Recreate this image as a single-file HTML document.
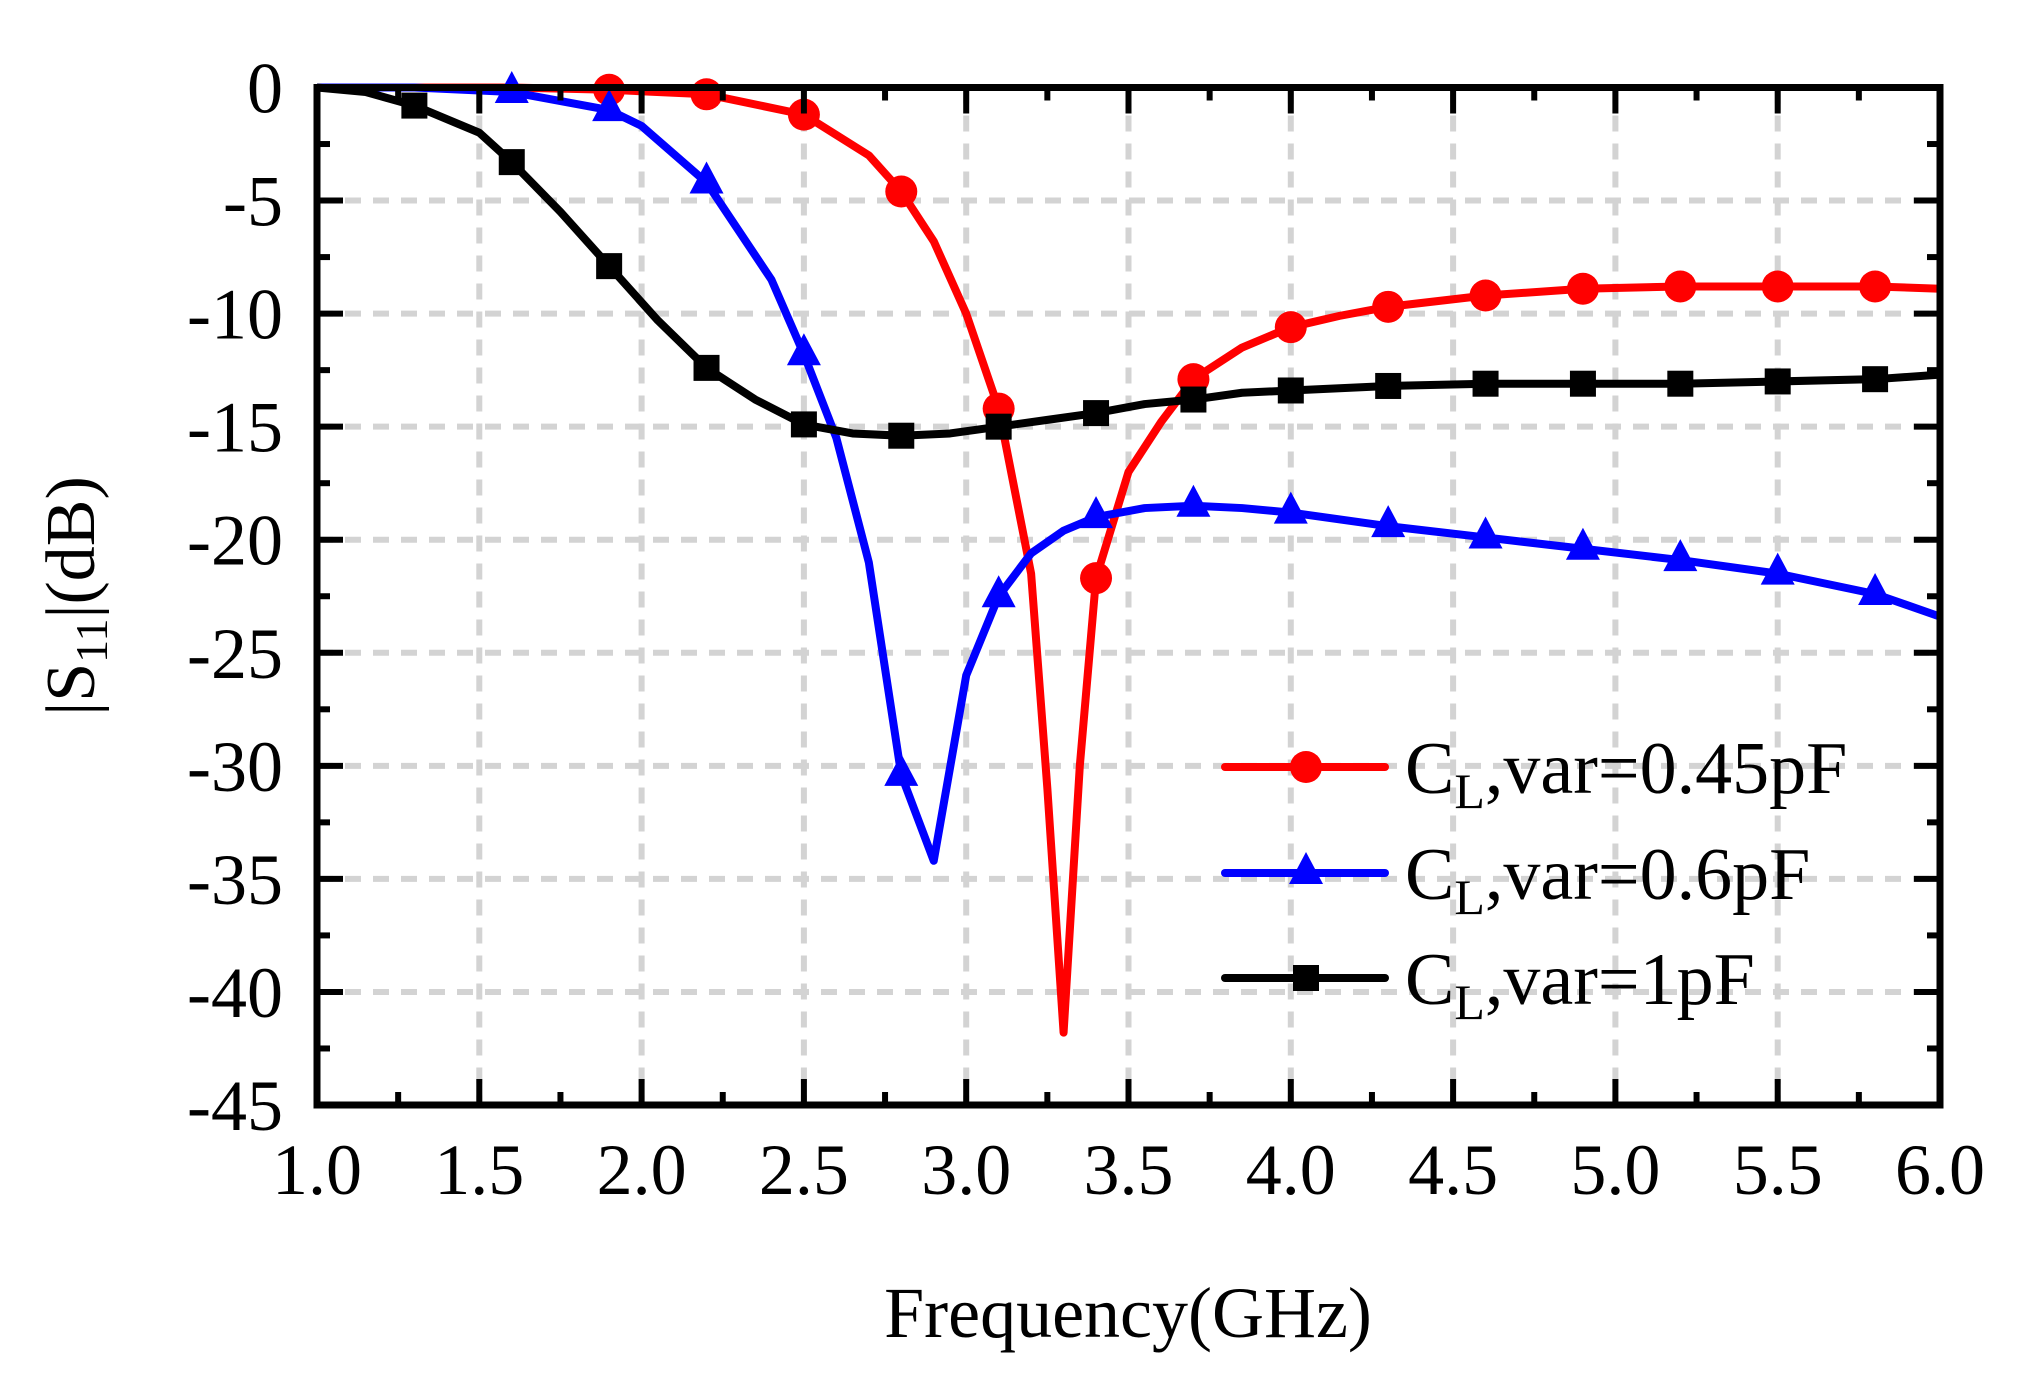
<!DOCTYPE html>
<html><head><meta charset="utf-8"><style>
html,body{margin:0;padding:0;background:#fff;}
svg text{font-family:"Liberation Serif",serif;fill:#000;}
</style></head><body>
<svg id="s" width="2034" height="1388" viewBox="0 0 2034 1388" xmlns="http://www.w3.org/2000/svg">
<rect width="2034" height="1388" fill="#fff"/>
<g id="grid"></g>
<g id="series"></g>
<g id="frame"></g>
<g id="labels"></g>
<g id="legend">
 <line x1="1225" y1="767" x2="1385" y2="767" stroke="#f00" stroke-width="8" stroke-linecap="round"/>
 <circle cx="1306" cy="767" r="16" fill="#f00"/>
 <line x1="1225" y1="873" x2="1385" y2="873" stroke="#00f" stroke-width="8" stroke-linecap="round"/>
 <polygon points="1306,852 1323,884 1289,884" fill="#00f"/>
 <line x1="1225" y1="978" x2="1385" y2="978" stroke="#000" stroke-width="8" stroke-linecap="round"/>
 <rect x="1293" y="965" width="26" height="26" fill="#000"/>
 <text x="1405" y="793" font-size="74">C<tspan font-size="50" dy="15">L</tspan><tspan dy="-15">,var=0.45pF</tspan></text>
 <text x="1405" y="899" font-size="74">C<tspan font-size="50" dy="15">L</tspan><tspan dy="-15">,var=0.6pF</tspan></text>
 <text x="1405" y="1004" font-size="74">C<tspan font-size="50" dy="15">L</tspan><tspan dy="-15">,var=1pF</tspan></text>
</g>
<text x="1128" y="1337" font-size="72" text-anchor="middle">Frequency(GHz)</text>
<text transform="translate(94,596) rotate(-90)" font-size="70" text-anchor="middle">|S<tspan font-size="46" dy="13">11</tspan><tspan dy="-13">|(dB)</tspan></text>
</svg>
<script>
var L=317,R=1940,T=87.5,B=1105;
function X(f){return L+(f-1)*(R-L)/5;}
function Y(d){return T-d*(B-T)/45;}
var ns="http://www.w3.org/2000/svg";
function el(p,t,a){var e=document.createElementNS(ns,t);for(var k in a)e.setAttribute(k,a[k]);document.getElementById(p).appendChild(e);return e;}
for(var i=1;i<10;i++){var x=X(1+i*0.5);el("grid","line",{x1:x,y1:T,x2:x,y2:B,stroke:"#d3d3d3","stroke-width":6,"stroke-dasharray":"16,12"});}
for(var j=1;j<9;j++){var y=Y(-5*j);el("grid","line",{x1:L,y1:y,x2:R,y2:y,stroke:"#d3d3d3","stroke-width":6,"stroke-dasharray":"16,12"});}
var red=[[1,0],[1.3,0],[1.6,0],[1.9,-0.1],[2.2,-0.3],[2.5,-1.2],[2.7,-3],[2.8,-4.6],[2.9,-6.8],[3.0,-10],[3.1,-14.2],[3.2,-21.5],[3.25,-31],[3.3,-41.8],[3.35,-30],[3.4,-21.7],[3.5,-17],[3.6,-14.8],[3.7,-12.9],[3.85,-11.5],[4.0,-10.6],[4.15,-10.1],[4.3,-9.7],[4.6,-9.2],[4.9,-8.9],[5.2,-8.8],[5.5,-8.8],[5.8,-8.8],[6.0,-8.9]];
var blue=[[1,0],[1.3,0],[1.6,-0.2],[1.9,-1.0],[2.0,-1.7],[2.2,-4.2],[2.4,-8.5],[2.5,-11.8],[2.6,-15.5],[2.7,-21],[2.8,-30.4],[2.9,-34.2],[3.0,-26],[3.1,-22.5],[3.2,-20.6],[3.3,-19.6],[3.4,-19],[3.55,-18.6],[3.7,-18.5],[3.85,-18.6],[4.0,-18.8],[4.3,-19.4],[4.6,-19.9],[4.9,-20.4],[5.2,-20.9],[5.5,-21.5],[5.8,-22.4],[6.0,-23.4]];
var black=[[1,0],[1.15,-0.2],[1.3,-0.8],[1.5,-2],[1.6,-3.3],[1.75,-5.5],[1.9,-7.9],[2.05,-10.3],[2.2,-12.4],[2.35,-13.8],[2.5,-14.9],[2.65,-15.3],[2.8,-15.4],[2.95,-15.3],[3.1,-15.0],[3.25,-14.7],[3.4,-14.4],[3.55,-14.0],[3.7,-13.8],[3.85,-13.5],[4.0,-13.4],[4.3,-13.2],[4.6,-13.1],[4.9,-13.1],[5.2,-13.1],[5.5,-13.0],[5.8,-12.9],[6.0,-12.7]];
var mk=[1.3,1.6,1.9,2.2,2.5,2.8,3.1,3.4,3.7,4.0,4.3,4.6,4.9,5.2,5.5,5.8];
function interp(d,f){for(var i=0;i<d.length-1;i++){if(f>=d[i][0]-1e-9&&f<=d[i+1][0]+1e-9){var t=(f-d[i][0])/(d[i+1][0]-d[i][0]);return d[i][1]+t*(d[i+1][1]-d[i][1]);}}return d[d.length-1][1];}
function draw(d,c,type,start){
 el("series","polyline",{points:d.map(function(p){return X(p[0])+","+Y(p[1]);}).join(" "),fill:"none",stroke:c,"stroke-width":8,"stroke-linejoin":"round"});
 mk.forEach(function(f){if(f<start-1e-9)return;var x=X(f),y=Y(interp(d,f));
  if(type==0)el("series","circle",{cx:x,cy:y,r:16,fill:c});
  else if(type==1)el("series","polygon",{points:x+","+(y-21)+" "+(x+17)+","+(y+11)+" "+(x-17)+","+(y+11),fill:c});
  else el("series","rect",{x:x-13,y:y-13,width:26,height:26,fill:c});});
}
draw(red,"#f00",0,1.9);draw(blue,"#00f",1,1.6);draw(black,"#000",2,1.3);
el("frame","rect",{x:L,y:T,width:R-L,height:B-T,fill:"none",stroke:"#000","stroke-width":7});
for(var i=0;i<=20;i++){var x=X(1+i*0.25),len=(i%2==0)?26:13;
 el("frame","line",{x1:x,y1:B,x2:x,y2:B-len,stroke:"#000","stroke-width":6});
 el("frame","line",{x1:x,y1:T,x2:x,y2:T+len,stroke:"#000","stroke-width":6});}
for(var j=0;j<=18;j++){var y=Y(-2.5*j),len=(j%2==0)?26:13;
 el("frame","line",{x1:L,y1:y,x2:L+len,y2:y,stroke:"#000","stroke-width":6});
 el("frame","line",{x1:R,y1:y,x2:R-len,y2:y,stroke:"#000","stroke-width":6});}
for(var i=0;i<=10;i++){var t=el("labels","text",{x:X(1+i*0.5),y:1194,"font-size":72,"text-anchor":"middle"});t.textContent=(1+i*0.5).toFixed(1);}
for(var j=0;j<=9;j++){var t=el("labels","text",{x:283,y:Y(-5*j)+25,"font-size":72,"text-anchor":"end"});t.textContent=j==0?"0":"-"+(5*j);}
</script>
</body></html>
